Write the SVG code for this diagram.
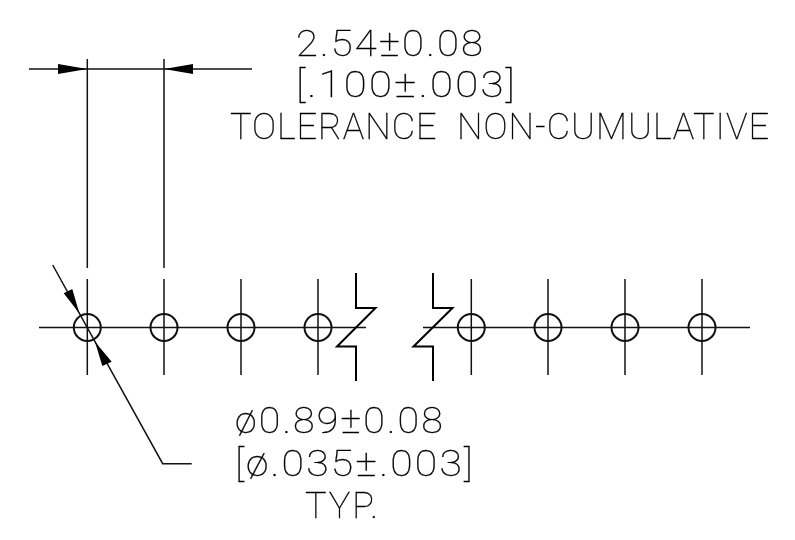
<svg xmlns="http://www.w3.org/2000/svg" width="795" height="540" viewBox="0 0 795 540">
<style>
text{font-family:"Roboto","Liberation Sans",sans-serif;font-weight:100;font-size:36.5px;fill:#000;stroke:#000;stroke-width:.3;letter-spacing:2px}
.w{letter-spacing:1px;word-spacing:10px}
.l{fill:none;stroke:#111;stroke-width:1.5}
.b{fill:none;stroke:#000;stroke-width:2}
.h{fill:none;stroke:#111;stroke-width:2}
.a{fill:#000;stroke:none}
</style>
<defs><circle id="hole" r="13.5" class="h"/><filter id="gray" x="0" y="0" width="1" height="1" color-interpolation-filters="sRGB"><feOffset dx="0" dy="0"/></filter></defs>
<rect width="795" height="540" fill="#fff"/>
<g id="connectors">
<path class="l" d="M39 327.5H366M423 327.5H750"/>
<path class="l" d="M87.3 59V268M164 59V268"/>
<path class="l" d="M29 69H252"/>
<path class="a" d="M87.3 69L58 64V74Z"/>
<path class="a" d="M164 69L193 64V74Z"/>
<path class="l" d="M52.7 265L95 341.7L162.7 463.7H191.7"/>
<path class="a" d="M79.3 313.3L63.7 293.3L72.3 289Z"/>
<path class="a" d="M95 341.7L102.3 366L111.7 361.7Z"/>
<path class="b" d="M356 273V308H375.5L337 346.5H356V381"/>
<path class="b" d="M433 273V308H452.5L413.5 346.5H433V381"/>
</g>
<g id="hole1"><use href="#hole" x="87.3" y="327.5"/><path class="l" d="M87.3 279V375"/></g>
<g id="hole2"><use href="#hole" x="164" y="327.5"/><path class="l" d="M164 279V375"/></g>
<g id="hole3"><use href="#hole" x="241" y="327.5"/><path class="l" d="M241 279V375"/></g>
<g id="hole4"><use href="#hole" x="318" y="327.5"/><path class="l" d="M318 279V375"/></g>
<g id="hole5"><use href="#hole" x="471.3" y="327.5"/><path class="l" d="M471.3 279V375"/></g>
<g id="hole6"><use href="#hole" x="548" y="327.5"/><path class="l" d="M548 279V375"/></g>
<g id="hole7"><use href="#hole" x="625" y="327.5"/><path class="l" d="M625 279V375"/></g>
<g id="hole8"><use href="#hole" x="702" y="327.5"/><path class="l" d="M702 279V375"/></g>
<g id="label-pitch" filter="url(#gray)">
<text x="296" y="55.5" textLength="189" lengthAdjust="spacingAndGlyphs">2.54±0.08</text>
<text x="296" y="97" textLength="221" lengthAdjust="spacingAndGlyphs">[.100±.003]</text>
<text class="w" x="230" y="139" textLength="540" lengthAdjust="spacingAndGlyphs">TOLERANCE NON-CUMULATIVE</text>
</g>
<g id="label-hole" filter="url(#gray)">
<text x="235" y="433" textLength="210" lengthAdjust="spacingAndGlyphs">ø0.89±0.08</text>
<text x="235" y="476" textLength="240" lengthAdjust="spacingAndGlyphs">[ø.035±.003]</text>
<text x="305" y="517.5" textLength="75" lengthAdjust="spacingAndGlyphs">TYP.</text>
</g>
</svg>
